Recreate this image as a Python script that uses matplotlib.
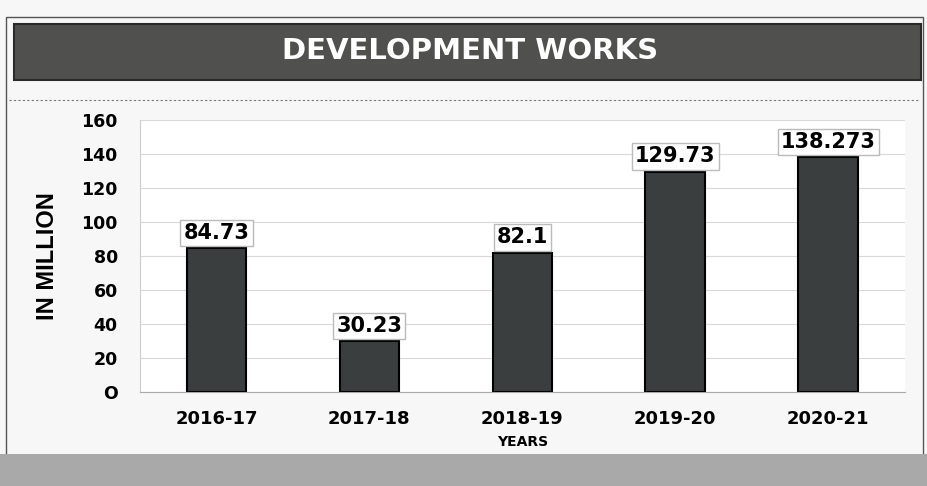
import matplotlib.pyplot as plt
from matplotlib.patches import Rectangle

years = ["2016-17", "2017-18", "2018-19", "2019-20", "2020-21"]
values = [84.73, 30.23, 82.1, 129.73, 138.273]
labels = ["84.73", "30.23", "82.1", "129.73", "138.273"]
yticks = [0, 20, 40, 60, 80, 100, 120, 140, 160]

fig = plt.figure(figsize=(9.27, 4.86), dpi=100)
fig.patch.set_facecolor("#f7f7f7")

# outer frame
fig.patches.append(Rectangle((0.006, 0.06), 0.99, 0.905, transform=fig.transFigure,
                             facecolor="none", edgecolor="#555555", lw=1.0))
# title banner
fig.patches.append(Rectangle((0.015, 0.835), 0.978, 0.115, transform=fig.transFigure,
                             facecolor="#50514f", edgecolor="#2a2a2a", lw=1.5))
fig.text(0.507, 0.895, "DEVELOPMENT WORKS", color="white", fontsize=21,
         fontweight="bold", ha="center", va="center", family="DejaVu Sans")
# dotted separator
fig.lines.append(plt.Line2D([0.01, 0.99], [0.795, 0.795], transform=fig.transFigure,
                            color="#777777", lw=0.8, ls=(0, (2, 2))))
# bottom band
fig.patches.append(Rectangle((0, 0), 1, 0.065, transform=fig.transFigure,
                             facecolor="#a9a9a9", edgecolor="none"))

ax = fig.add_axes([0.151, 0.193, 0.825, 0.56])
ax.set_facecolor("white")
x = range(len(years))
ax.bar(x, values, width=0.39, color="#3b3e3e", edgecolor="black", lw=1.5, zorder=3)
for i, v in enumerate(values):
    ax.text(i, v + 3, labels[i], ha="center", va="bottom", fontsize=15,
            fontweight="bold", zorder=4,
            bbox=dict(facecolor="white", edgecolor="#bbbbbb", boxstyle="square,pad=0.15"))

ax.set_ylim(0, 160)
ax.set_xlim(-0.5, 4.5)
ax.set_yticks(yticks)
ax.set_yticklabels(["O" if t == 0 else str(t) for t in yticks],
                   fontsize=12.5, fontweight="bold")
ax.set_xticks(list(x))
ax.set_xticklabels(years, fontsize=13, fontweight="bold")
ax.tick_params(axis="y", length=0, pad=16)
ax.tick_params(axis="x", length=0, pad=13)
ax.grid(axis="y", color="#d8d8d8", lw=0.8, zorder=0)
for s in ["top", "right"]:
    ax.spines[s].set_visible(False)
ax.spines["left"].set_color("#cccccc")
ax.spines["bottom"].set_color("#aaaaaa")
ax.set_ylabel("IN MILLION", fontsize=17, fontweight="bold", labelpad=16,
              family=["Liberation Sans Narrow", "Liberation Sans", "DejaVu Sans"])
ax.set_xlabel("YEARS", fontsize=10, fontweight="bold", labelpad=5)

fig.savefig("out.png", dpi=100, facecolor=fig.get_facecolor())
